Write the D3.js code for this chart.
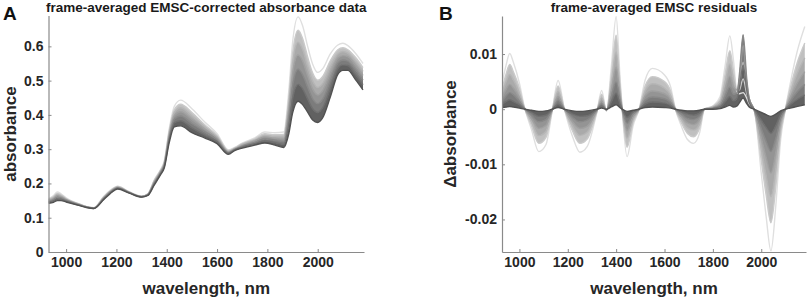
<!DOCTYPE html>
<html>
<head>
<meta charset="utf-8">
<script src="https://cdn.jsdelivr.net/npm/d3@7"></script>
<style>
  body { margin: 0; background: #fff; }
  svg text { font-family: "Liberation Sans", Arial, sans-serif; font-weight: bold; }
</style>
</head>
<body>
<div id="canvas"></div>
<script>
"use strict"

let svgWidth = 809;
let svgHeight = 300;

/* Panel A : EMSC-corrected absorbance, lightest (top) curve first */
let wavelengthsA = [930, 950, 965, 980, 1000, 1050, 1080, 1110, 1150, 1175, 1205, 1250, 1300, 1325,
    1350, 1375, 1390, 1410, 1430, 1455, 1500, 1550, 1600, 1645, 1670, 1700, 1750, 1790, 1830, 1865,
    1885, 1900, 1922, 1940, 1960, 1980, 2000, 2020, 2050, 2080, 2100, 2120, 2150, 2180];

let absorbance1 = [.156, .165, .175, .170, .158, .141, .133, .129, .163, .180, .192, .176, .163, .170,
    .210, .240, .265, .360, .425, .443, .418, .380, .345, .298, .305, .318, .333, .350, .348, .350,
    .470, .610, .686, .660, .600, .548, .524, .535, .578, .604, .609, .602, .580, .550];
let absorbance2 = [.154, .162, .171, .167, .156, .140, .132, .129, .161, .178, .191, .175, .163, .169,
    .208, .238, .262, .354, .415, .431, .407, .372, .340, .296, .304, .316, .330, .345, .342, .343,
    .450, .577, .647, .623, .569, .522, .501, .512, .558, .590, .596, .590, .568, .538];
let absorbance3 = [.152, .159, .168, .164, .154, .140, .132, .128, .160, .177, .190, .175, .162, .169,
    .206, .236, .259, .348, .407, .421, .397, .366, .336, .294, .302, .314, .327, .340, .337, .337,
    .433, .549, .612, .591, .542, .499, .480, .492, .540, .578, .585, .580, .557, .527];
let absorbance4 = [.150, .156, .164, .161, .153, .139, .132, .128, .158, .176, .188, .174, .162, .168,
    .203, .233, .256, .342, .398, .409, .387, .359, .332, .292, .301, .311, .324, .336, .332, .330,
    .414, .518, .575, .557, .514, .475, .458, .471, .521, .565, .573, .570, .545, .515];
let absorbance5 = [.147, .153, .160, .158, .151, .138, .131, .128, .157, .174, .187, .174, .161, .167,
    .201, .231, .253, .335, .388, .397, .375, .351, .327, .290, .299, .309, .320, .330, .326, .322,
    .393, .483, .533, .517, .481, .447, .433, .446, .500, .551, .560, .557, .532, .502];
let absorbance6 = [.145, .149, .155, .154, .148, .137, .131, .127, .155, .172, .186, .173, .161, .166,
    .198, .228, .249, .328, .377, .383, .362, .342, .322, .288, .298, .306, .316, .324, .319, .314,
    .370, .446, .489, .476, .446, .418, .407, .421, .477, .535, .546, .544, .518, .488];
let absorbance7 = [.142, .145, .150, .150, .146, .136, .130, .127, .153, .170, .184, .172, .160, .165,
    .195, .225, .245, .320, .365, .368, .348, .333, .316, .285, .296, .303, .312, .318, .312, .305,
    .345, .405, .440, .430, .408, .385, .378, .392, .452, .518, .530, .530, .503, .473];

/* Panel B : EMSC residuals (x 0.001), lightest (largest) curve first */
let wavelengthsB = [930, 945, 960, 975, 1000, 1020, 1050, 1080, 1110, 1135, 1160, 1185, 1220, 1250,
    1280, 1320, 1340, 1360, 1380, 1400, 1415, 1425, 1445, 1470, 1495, 1520, 1550, 1600, 1625, 1645,
    1670, 1695, 1720, 1745, 1765, 1800, 1830, 1850, 1870, 1885, 1900, 1910, 1925, 1940, 1950, 1970,
    2000, 2020, 2040, 2060, 2080, 2100, 2120, 2150, 2180];

let residual1 = [5.0, 8.0, 10.1, 8.5, 4.7, 0.5, -3.7, -7.7, -6.4, -0.5, 5.2, 0.2, -5.0, -7.8,
    -6.8, -0.6, 3.4, -0.4, 7.7, 16.8, 6.5, 0, -8.6, -3.0, 0, 5.3, 7.4, 6.2, 4.1, 0,
    -3.1, -5.5, -6.2, -4.3, 0, 0.6, 2.3, 7.7, 13.3, 8.9, 3.0, 2.8, 3.0, 2.0, 1.0, 0,
    -11.6, -19.4, -25.7, -17.6, -5.6, 0, 4.7, 10.7, 15.0];
let residual2 = [4.0, 6.4, 8.1, 6.8, 3.8, 0.4, -3.0, -6.2, -5.1, -0.4, 4.2, 0.2, -4.0, -6.2,
    -5.4, -0.5, 2.7, -0.3, 6.2, 13.4, 5.2, 0, -6.9, -2.4, 0, 4.2, 5.9, 5.0, 3.3, 0,
    -2.5, -4.4, -5.0, -3.4, 0, 0.5, 1.8, 6.2, 10.6, 7.1, 3.2, 3.5, 5.5, 2.8, 1.5, 0,
    -9.3, -15.5, -20.6, -14.1, -4.5, 0, 3.8, 8.6, 12.0];
let residual3 = [3.1, 5.0, 6.3, 5.3, 2.9, 0.3, -2.3, -4.8, -4.0, -0.3, 3.2, 0.1, -3.1, -4.8,
    -4.2, -0.4, 2.1, -0.2, 4.8, 10.4, 4.0, 0, -5.3, -1.9, 0, 3.3, 4.6, 3.8, 2.5, 0,
    -1.9, -3.4, -3.8, -2.7, 0, 0.4, 1.4, 4.8, 8.2, 5.5, 3.4, 4.5, 8.5, 3.5, 1.8, 0,
    -7.2, -12.0, -15.9, -10.9, -3.5, 0, 2.9, 6.6, 9.3];
let residual4 = [2.3, 3.6, 4.5, 3.8, 2.1, 0.2, -1.7, -3.5, -2.9, -0.2, 2.3, 0.1, -2.3, -3.5,
    -3.1, -0.3, 1.5, -0.2, 3.5, 7.6, 2.9, 0, -3.9, -1.4, 0, 2.4, 3.3, 2.8, 1.8, 0,
    -1.4, -2.5, -2.8, -1.9, 0, 0.3, 1.0, 3.5, 6.0, 4.0, 3.5, 5.5, 11.5, 4.8, 2.0, 0,
    -5.2, -8.7, -11.6, -7.9, -2.5, 0, 2.1, 4.8, 6.8];
let residual5 = [1.5, 2.4, 3.0, 2.6, 1.4, 0.2, -1.1, -2.3, -1.9, -0.2, 1.6, 0.1, -1.5, -2.3,
    -2.0, -0.2, 1.0, -0.1, 2.3, 5.0, 2.0, 0, -2.6, -0.9, 0, 1.6, 2.2, 1.9, 1.2, 0,
    -0.9, -1.7, -1.9, -1.3, 0, 0.2, 0.7, 2.3, 4.0, 2.7, 3.0, 6.5, 13.5, 5.5, 2.0, 0,
    -3.5, -5.8, -7.7, -5.3, -1.7, 0, 1.4, 3.2, 4.5];
let residual6 = [0.9, 1.4, 1.7, 1.4, 0.8, 0.1, -0.6, -1.3, -1.1, -0.1, 0.9, 0, -0.9, -1.3,
    -1.2, -0.1, 0.6, -0.1, 1.3, 2.9, 1.1, 0, -1.5, -0.5, 0, 0.9, 1.3, 1.1, 0.7, 0,
    -0.5, -0.9, -1.1, -0.7, 0, 0.1, 0.4, 1.3, 2.3, 1.5, 2.0, 4.0, 8.0, 3.5, 1.2, 0,
    -2.0, -3.3, -4.4, -3.0, -1.0, 0, 0.8, 1.8, 2.6];
let residual7 = [0.3, 0.4, 0.5, 0.4, 0.2, 0, -0.2, -0.4, -0.3, 0, 0.3, 0, -0.3, -0.4,
    -0.3, 0, 0.2, 0, 0.4, 0.8, 0.3, 0, -0.4, -0.2, 0, 0.3, 0.4, 0.3, 0.2, 0,
    -0.2, -0.3, -0.3, -0.2, 0, 0, 0.1, 0.4, 0.7, 0.4, 0.6, 1.2, 2.0, 1.0, 0.4, 0,
    -0.6, -1.0, -1.3, -0.9, -0.3, 0, 0.2, 0.5, 0.8];

/* Ticks */
let xTicks = [1000, 1200, 1400, 1600, 1800, 2000];
let yTicksA = [0, 0.1, 0.2, 0.3, 0.4, 0.5, 0.6];
let yTickLabelsA = ["0", "0.1", "0.2", "0.3", "0.4", "0.5", "0.6"];
let yTicksB = [-20, -10, 0, 10];
let yTickLabelsB = ["-0.02", "-0.01", "0", "0.01"];

let absCurves = [absorbance1, absorbance2, absorbance3, absorbance4, absorbance5, absorbance6, absorbance7];
let resCurves = [residual1, residual2, residual3, residual4, residual5, residual6, residual7];

// light to dark greys
let greys = ["#dfdfdf", "#cacaca", "#b5b5b5", "#9f9f9f", "#888888", "#6f6f6f", "#525252"];

let svg = d3.select("#canvas")
    .append("svg")
    .attr("width", svgWidth)
    .attr("height", svgHeight);

function drawPanel(p) {
    let xScale = d3.scaleLinear().domain(p.xDomain).range([p.left, p.right]);
    let yScale = d3.scaleLinear().domain(p.yDomain).range([p.bottom, p.top]);

    let g = svg.append("g");

    g.append("clipPath")
        .attr("id", p.id + "clip")
        .append("rect")
        .attr("x", p.left)
        .attr("y", p.top)
        .attr("width", p.right - p.left)
        .attr("height", p.bottom - p.top);

    let plot = g.append("g").attr("clip-path", "url(#" + p.id + "clip)");

    // filled bands between neighbouring curves (outermost left open)
    for (let i = 1; i < p.curves.length - 1; i++) {
        let upper = p.curves[i];
        let lower = p.curves[i + 1];
        let area = d3.area()
            .x(function (d, j) { return xScale(p.wl[j]); })
            .y0(function (d, j) { return yScale(upper[j]); })
            .y1(function (d, j) { return yScale(lower[j]); })
            .curve(d3.curveMonotoneX);
        plot.append("path")
            .attr("d", area(p.wl))
            .attr("fill", d3.interpolateRgb(greys[i], greys[i + 1])(0.5))
            .attr("stroke", "none");
    }

    p.curves.forEach(function (curve, i) {
        let line = d3.line()
            .x(function (d, j) { return xScale(p.wl[j]); })
            .y(function (d) { return yScale(d); })
            .curve(d3.curveMonotoneX);
        plot.append("path")
            .attr("d", line(curve))
            .attr("fill", "none")
            .attr("stroke", greys[i])
            .attr("stroke-width", 1.4);
    });

    /* Axes, MATLAB style: ticks point inward, no box */
    let xAxis = g.append("g")
        .attr("transform", "translate(0," + p.bottom + ")")
        .call(d3.axisBottom(xScale).tickValues(xTicks).tickFormat(d3.format("d"))
            .tickSizeInner(-3).tickSizeOuter(0).tickPadding(5));

    let yAxis = g.append("g")
        .attr("transform", "translate(" + p.left + ",0)")
        .call(d3.axisLeft(yScale).tickValues(p.yTicks).tickSizeInner(-3).tickSizeOuter(0).tickPadding(5)
            .tickFormat(function (d, i) { return p.yLabels[i]; }));

    [xAxis, yAxis].forEach(function (ax) {
        ax.select(".domain").attr("stroke", "#8a8a8a").attr("stroke-width", 1.2);
        ax.selectAll(".tick line").attr("stroke", "#8a8a8a");
        ax.selectAll(".tick text")
            .attr("fill", "#262626")
            .style("font-size", "14px");
    });

    // title
    g.append("text")
        .attr("x", (p.left + p.right) / 2)
        .attr("y", 12)
        .attr("text-anchor", "middle")
        .style("font-size", "13.5px")
        .attr("fill", "#1a1a1a")
        .text(p.title);

    // panel letter
    g.append("text")
        .attr("x", p.letterX)
        .attr("y", 20)
        .style("font-size", "19px")
        .attr("fill", "#111")
        .text(p.letter);

    // x label
    g.append("text")
        .attr("x", (p.left + p.right) / 2)
        .attr("y", 294)
        .attr("text-anchor", "middle")
        .style("font-size", "17px")
        .attr("fill", "#262626")
        .text("wavelength, nm");

    // y label
    g.append("text")
        .attr("transform", "translate(" + p.yLabelX + ",134) rotate(-90)")
        .attr("text-anchor", "middle")
        .style("font-size", "17px")
        .attr("fill", "#262626")
        .text(p.yLabel);
}

drawPanel({
    id: "A", letter: "A", letterX: 3,
    title: "frame-averaged EMSC-corrected absorbance data",
    yLabel: "absorbance", yLabelX: 16,
    left: 48.5, right: 364, top: 15.5, bottom: 252,
    xDomain: [930, 2184], yDomain: [0, 0.69],
    wl: wavelengthsA, curves: absCurves,
    yTicks: yTicksA, yLabels: yTickLabelsA
});

drawPanel({
    id: "B", letter: "B", letterX: 439,
    title: "frame-averaged EMSC residuals",
    yLabel: "\u0394absorbance", yLabelX: 456,
    left: 502, right: 806, top: 16, bottom: 252,
    xDomain: [928, 2185], yDomain: [-25.9, 16.9],
    wl: wavelengthsB, curves: resCurves,
    yTicks: yTicksB, yLabels: yTickLabelsB
});
</script>
</body>
</html>
